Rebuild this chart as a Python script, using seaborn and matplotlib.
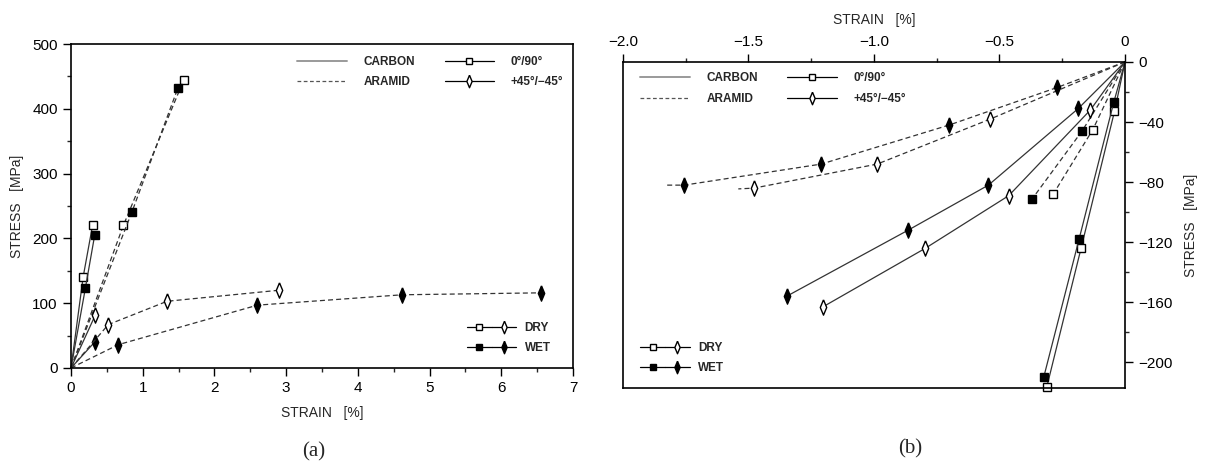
import numpy as np
import pandas as pd
import matplotlib
matplotlib.use("Agg")
import matplotlib.pyplot as plt
import seaborn as sns
from matplotlib.lines import Line2D
from matplotlib.legend_handler import HandlerTuple
from matplotlib.ticker import MultipleLocator

# --- data: strain [%], stress [MPa]
# (a) tension
a_carbon_090_dry_x = [0, 0.17, 0.30]
a_carbon_090_dry_y = [0, 141, 220]
a_carbon_090_wet_x = [0, 0.20, 0.33]
a_carbon_090_wet_y = [0, 123, 205]
a_aramid_090_dry_x = [0, 0.73, 1.57]
a_aramid_090_dry_y = [0, 220, 444]
a_aramid_090_wet_x = [0, 0.85, 1.49]
a_aramid_090_wet_y = [0, 241, 432]
a_carbon_45_dry_x = [0, 0.34]
a_carbon_45_dry_y = [0, 82]
a_carbon_45_wet_x = [0, 0.33]
a_carbon_45_wet_y = [0, 40]
a_aramid_45_dry_x = [0, 0.52, 1.34, 2.90]
a_aramid_45_dry_y = [0, 67, 103, 120]
a_aramid_45_wet_x = [0, 0.66, 2.60, 4.62, 6.55]
a_aramid_45_wet_y = [0, 36, 97, 113, 116]

# (b) compression (aramid +-45 curves run on a little past their last point)
b_carbon_090_dry_x = [0, -0.042, -0.175, -0.311]
b_carbon_090_dry_y = [0, -33, -124, -216]
b_carbon_090_wet_x = [0, -0.045, -0.183, -0.324]
b_carbon_090_wet_y = [0, -27, -118, -210]
b_aramid_090_dry_x = [0, -0.128, -0.286]
b_aramid_090_dry_y = [0, -45, -88]
b_aramid_090_wet_x = [0, -0.171, -0.369]
b_aramid_090_wet_y = [0, -46, -91]
b_carbon_45_dry_x = [0, -0.138, -0.463, -0.795, -1.203]
b_carbon_45_dry_y = [0, -32, -89, -124, -163]
b_carbon_45_wet_x = [0, -0.186, -0.544, -0.864, -1.348]
b_carbon_45_wet_y = [0, -31, -82, -112, -156]
b_aramid_45_dry_x = [0, -0.536, -0.987, -1.478, -1.54]
b_aramid_45_dry_y = [0, -38, -68, -84, -84.5]
b_aramid_45_wet_x = [0, -0.27, -0.70, -1.21, -1.755, -1.825]
b_aramid_45_wet_y = [0, -17, -42, -68, -82, -82]

series_a = [
    ("carbon", "090", "dry", a_carbon_090_dry_x, a_carbon_090_dry_y, False),
    ("carbon", "090", "wet", a_carbon_090_wet_x, a_carbon_090_wet_y, False),
    ("aramid", "090", "dry", a_aramid_090_dry_x, a_aramid_090_dry_y, False),
    ("aramid", "090", "wet", a_aramid_090_wet_x, a_aramid_090_wet_y, False),
    ("carbon", "45", "dry", a_carbon_45_dry_x, a_carbon_45_dry_y, False),
    ("carbon", "45", "wet", a_carbon_45_wet_x, a_carbon_45_wet_y, False),
    ("aramid", "45", "dry", a_aramid_45_dry_x, a_aramid_45_dry_y, False),
    ("aramid", "45", "wet", a_aramid_45_wet_x, a_aramid_45_wet_y, False),
]
series_b = [
    ("carbon", "090", "dry", b_carbon_090_dry_x, b_carbon_090_dry_y, False),
    ("carbon", "090", "wet", b_carbon_090_wet_x, b_carbon_090_wet_y, False),
    ("aramid", "090", "dry", b_aramid_090_dry_x, b_aramid_090_dry_y, False),
    ("aramid", "090", "wet", b_aramid_090_wet_x, b_aramid_090_wet_y, False),
    ("carbon", "45", "dry", b_carbon_45_dry_x, b_carbon_45_dry_y, False),
    ("carbon", "45", "wet", b_carbon_45_wet_x, b_carbon_45_wet_y, False),
    ("aramid", "45", "dry", b_aramid_45_dry_x, b_aramid_45_dry_y, True),
    ("aramid", "45", "wet", b_aramid_45_wet_x, b_aramid_45_wet_y, True),
]

sns.set_theme(style="ticks")
plt.rcParams['font.family'] = ['Liberation Sans', 'DejaVu Sans']

DASH = (0, (4, 2.5))
# slim upright diamond like the original plot symbol
SLIM_D = [(0, 1), (0.42, 0), (0, -1), (-0.42, 0), (0, 1)]


def draw(ax, material, layup, cond, xs, ys, tail):
    df = pd.DataFrame({"strain": xs, "stress": ys})
    ls = "-" if material == "carbon" else DASH
    mk = "s" if layup == "090" else SLIM_D
    if layup == "090":
        ms = 5.5 if cond == "dry" else 6
    else:
        ms = 11
    fc = "white" if cond == "dry" else "black"
    last = len(xs) - 1 if tail else len(xs)
    sns.lineplot(data=df, x="strain", y="stress", ax=ax, sort=False, estimator=None,
                 color="#333333", linewidth=0.9, linestyle=ls, marker=mk, markersize=ms,
                 markerfacecolor=fc, markeredgecolor="black", markeredgewidth=1.0,
                 markevery=list(range(1, last)), clip_on=False)


def legends(ax, top_loc, top_anchor, dw_loc, dw_anchor):
    h = [Line2D([], [], color="#9a9a9a", lw=1.4),
         Line2D([], [], color="#555555", lw=0.9, ls=(0, (3, 2))),
         Line2D([], [], color="black", lw=0.9, marker="s", ms=4, mfc="white", mec="black"),
         Line2D([], [], color="black", lw=0.9, marker=SLIM_D, ms=9, mfc="white", mec="black")]
    lab = ["CARBON", "ARAMID", "0\u00b0/90\u00b0", "+45\u00b0/\u221245\u00b0"]
    leg = ax.legend(h, lab, loc=top_loc, bbox_to_anchor=top_anchor, ncol=2, frameon=False,
                    handlelength=4.2, columnspacing=2.5, handletextpad=1.4,
                    labelspacing=0.7, borderaxespad=0.0, borderpad=0.2,
                    prop={"size": 8.5, "weight": "bold"})
    ax.add_artist(leg)
    dry = (Line2D([], [], color="black", lw=0.9, marker="s", ms=4, mfc="white"),
           Line2D([], [], color="black", lw=0.9, marker=SLIM_D, ms=9, mfc="white"))
    wet = (Line2D([], [], color="black", lw=0.9, marker="s", ms=5, mfc="black"),
           Line2D([], [], color="black", lw=0.9, marker=SLIM_D, ms=9, mfc="black"))
    ax.legend([dry, wet], ["DRY", "WET"], loc=dw_loc, bbox_to_anchor=dw_anchor,
              frameon=False, handlelength=4.2, handletextpad=0.7, labelspacing=0.7,
              borderaxespad=0.0, borderpad=0.2,
              handler_map={tuple: HandlerTuple(ndivide=None, pad=0)},
              prop={"size": 8.5, "weight": "bold"})


fig = plt.figure(figsize=(12.14, 4.69), dpi=100)
ax1 = fig.add_axes([0.0585, 0.2154, 0.4135, 0.6906])
ax2 = fig.add_axes([0.513, 0.1727, 0.4137, 0.6953])

for s in series_a:
    draw(ax1, *s)
for s in series_b:
    draw(ax2, *s)

# --- (a)
ax1.set_xlim(0, 7)
ax1.set_ylim(0, 500)
ax1.xaxis.set_major_locator(MultipleLocator(1))
ax1.xaxis.set_minor_locator(MultipleLocator(0.5))
ax1.yaxis.set_major_locator(MultipleLocator(100))
ax1.yaxis.set_minor_locator(MultipleLocator(50))
ax1.set_xlabel("STRAIN   [%]", fontsize=10, labelpad=8)
ax1.set_ylabel("STRESS   [MPa]", fontsize=10, labelpad=6)
legends(ax1, "upper right", (0.985, 0.97), "lower right", (0.96, 0.035))

# --- (b)
ax2.set_xlim(-2.0, 0)
ax2.set_ylim(-217, 0)
ax2.xaxis.tick_top()
ax2.xaxis.set_label_position("top")
ax2.yaxis.tick_right()
ax2.yaxis.set_label_position("right")
ax2.set_xticks([-2.0, -1.5, -1.0, -0.5, 0])
ax2.set_xticklabels(["\u22122.0", "\u22121.5", "\u22121.0", "\u22120.5", "0"])
ax2.xaxis.set_minor_locator(MultipleLocator(0.25))
ax2.set_yticks([0, -40, -80, -120, -160, -200])
ax2.set_yticklabels(["0", "\u221240", "\u221280", "\u2212120", "\u2212160", "\u2212200"])
ax2.yaxis.set_minor_locator(MultipleLocator(20))
ax2.set_xlabel("STRAIN   [%]", fontsize=10, labelpad=8)
ax2.set_ylabel("STRESS   [MPa]", fontsize=10, labelpad=8, rotation=90)
legends(ax2, "upper left", (0.03, 0.975), "lower left", (0.03, 0.035))

for ax in (ax1, ax2):
    for sp in ax.spines.values():
        sp.set_visible(True)
        sp.set_color("black")
        sp.set_linewidth(1.2)
    ax.tick_params(which="major", direction="out", length=6, width=1, labelsize=11, colors="black")
    ax.tick_params(which="minor", direction="out", length=3, width=1)

fig.text(0.258, 0.026, "(a)", fontsize=15, family="Liberation Serif", ha="center")
fig.text(0.75, 0.034, "(b)", fontsize=15, family="Liberation Serif", ha="center")

fig.savefig("out.png", dpi=100, facecolor="white")
